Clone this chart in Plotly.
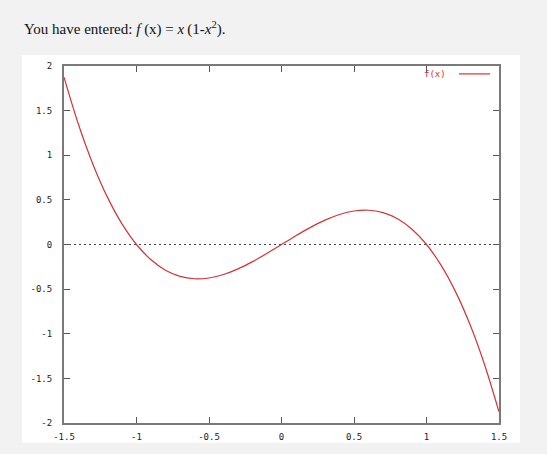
import plotly.graph_objects as go

# values
x_vals = [-1.5, -1.4, -1.3, -1.2, -1.1, -1.0, -0.9, -0.8, -0.7, -0.6, -0.5, -0.4, -0.3, -0.2, -0.1,
          0.0, 0.1, 0.2, 0.3, 0.4, 0.5, 0.6, 0.7, 0.8, 0.9, 1.0, 1.1, 1.2, 1.3, 1.4, 1.5]
y_vals = [1.875, 1.344, 0.897, 0.528, 0.231, 0.0, -0.171, -0.288, -0.357, -0.384, -0.375, -0.336, -0.273, -0.192, -0.099,
          0.0, 0.099, 0.192, 0.273, 0.336, 0.375, 0.384, 0.357, 0.288, 0.171, 0.0, -0.231, -0.528, -0.897, -1.344, -1.875]
x_ticks = [-1.5, -1, -0.5, 0, 0.5, 1, 1.5]
x_labels = ["-1.5", "-1", "-0.5", "0", "0.5", "1", "1.5"]
y_ticks = [-2, -1.5, -1, -0.5, 0, 0.5, 1, 1.5, 2]
y_labels = ["-2", "-1.5", "-1", "-0.5", "0", "0.5", "1", "1.5", "2"]
legend_label = "f(x)"
title_text = "You have entered:\u00a0<i>f</i>\u00a0(x)\u00a0=\u00a0<i>x</i>\u2009(1-<i>x</i><sup>2</sup>)."

W, H = 547, 454
L, R, T, B = 64, 48, 66, 27

fig = go.Figure()
fig.add_trace(go.Scatter(x=[x_ticks[0], x_ticks[-1]], y=[0, 0], mode="lines",
                         line=dict(color="#444444", width=1, dash="2px,3px"), showlegend=False,
                         hoverinfo="skip"))
fig.add_trace(go.Scatter(x=x_vals, y=y_vals, mode="lines", name=legend_label,
                         line=dict(color="#d03535", width=1.2, shape="spline"), showlegend=False))

pw = W - L - R
ph = H - T - B
def px(xp):
    return (xp - L) / pw
def py(yp):
    return (H - B - yp) / ph

shapes = [
    # white image panel
    dict(type="rect", xref="paper", yref="paper", x0=px(22), x1=px(520), y0=py(447), y1=py(55),
         fillcolor="white", line=dict(width=0), layer="below"),
    # legend sample line
    dict(type="line", xref="paper", yref="paper", x0=px(459), x1=px(490), y0=py(74), y1=py(74),
         line=dict(color="#d03535", width=1.2)),
]

annotations = [
    dict(text=title_text, xref="paper", yref="paper", x=px(22), y=py(28), xanchor="left", yanchor="middle",
         showarrow=False, font=dict(family="Liberation Serif", size=15, color="#111111")),
    dict(text=legend_label, xref="paper", yref="paper", x=px(448), y=py(74), xanchor="right", yanchor="middle",
         showarrow=False, font=dict(family="DejaVu Sans Mono", size=9, color="#d03535")),
]

axis_common = dict(showline=True, linecolor="#7a7a7a", linewidth=2, mirror="ticks",
                   ticks="inside", ticklen=6, tickcolor="#555555", tickwidth=1,
                   showgrid=False, zeroline=False,
                   tickfont=dict(family="DejaVu Sans Mono", size=9, color="#222222"))

fig.update_layout(
    width=W, height=H,
    margin=dict(l=L, r=R, t=T, b=B, pad=0),
    paper_bgcolor="#f2f2f2", plot_bgcolor="white",
    shapes=shapes, annotations=annotations,
    xaxis=dict(range=[-1.5, 1.5], tickvals=x_ticks, ticktext=x_labels, ticklabelstandoff=4, **axis_common),
    yaxis=dict(range=[-2, 2], tickvals=y_ticks, ticktext=y_labels, ticklabelstandoff=8, **axis_common),
)

fig.write_html("out.html", config={"displayModeBar": False},
               post_script="document.body.style.margin='0';document.body.style.overflow='hidden';")
